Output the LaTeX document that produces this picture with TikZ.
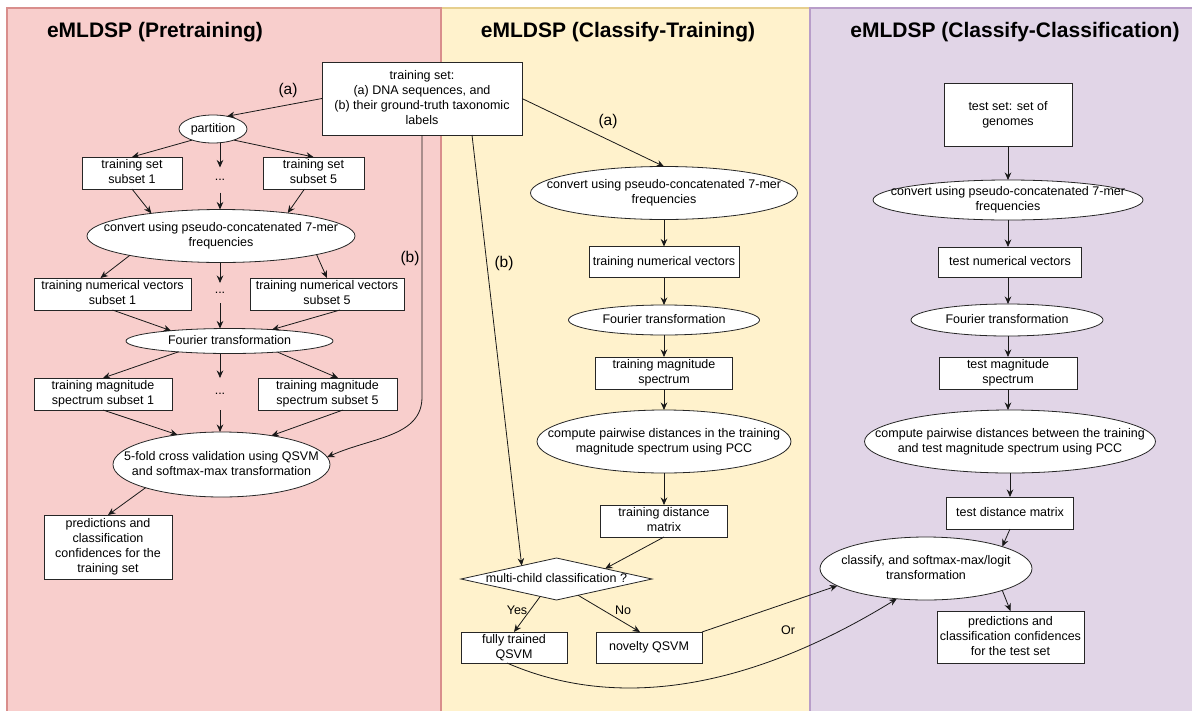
\documentclass[tikz,border=0pt]{standalone}
\usepackage{fontspec}
\setmainfont{Liberation Sans}
\usetikzlibrary{shapes.geometric,arrows.meta,calc}
\newcommand\ctext[1]{\makebox[0pt]{\begin{tabular}{@{}c@{}}#1\end{tabular}}}
\definecolor{pinkfill}{HTML}{F8CECC}
\definecolor{pinkline}{HTML}{D98E8C}
\definecolor{ylwfill}{HTML}{FFF2CC}
\definecolor{ylwline}{HTML}{E6CF8E}
\definecolor{purfill}{HTML}{E1D5E7}
\definecolor{purline}{HTML}{B89DC9}
\begin{document}
\begin{tikzpicture}[x=1pt,y=-1pt,
  every node/.style={inner sep=0pt, outer sep=0pt, text=black, font=\fontsize{12.5}{15}\selectfont},
  box/.style={draw=black!85, fill=white, line width=0.8pt, rectangle},
  ell/.style={draw=black!85, fill=white, line width=0.8pt, ellipse},
  dia/.style={draw=black!85, fill=white, line width=0.8pt, diamond},
  arr/.style={draw=black!90, line width=0.8pt, -{Stealth[length=7.5pt,width=6.5pt]}},
  ttl/.style={font=\bfseries\fontsize{21}{25}\selectfont},
  lab/.style={font=\fontsize{15.5}{18}\selectfont},
  dotsn/.style={font=\fontsize{12.5}{15}\selectfont}
]
\useasboundingbox (0,0) rectangle (1192,710);
\clip (0,0) rectangle (1192,710);
% panels
\fill[ylwfill] (441,8) rectangle (810,730);
\draw[ylwline, line width=1.2pt] (441,730) -- (441,8) -- (810,8) -- (810,730);
\fill[pinkfill] (7,8) rectangle (441,730);
\draw[pinkline, line width=1.2pt] (7,730) -- (7,8) -- (441,8) -- (441,730);
\fill[purfill] (810,8) rectangle (1200,730);
\draw[purline, line width=1.2pt] (810,730) -- (810,8) -- (1200,8);

% titles
\node[ttl] (t1) at (155,32) {eMLDSP (Pretraining)};
\node[ttl] (t2) at (618,32) {eMLDSP (Classify-Training)};
\node[ttl] (t3) at (1015,32) {eMLDSP (Classify-Classification)};

% pink panel
\node[box, minimum width=200pt, minimum height=73pt] (tset) at (422,98.5) {\ctext{training set:\\(a) DNA sequences, and\\(b) their ground-truth taxonomic\\labels}};
\node[ell, minimum width=68pt, minimum height=28pt] (partition) at (213,129) {\ctext{partition}};
\node[box, minimum width=100pt, minimum height=32pt] (sub1) at (132,173) {\ctext{training set\\subset 1}};
\node[box, minimum width=101pt, minimum height=32pt] (sub5) at (313.5,173) {\ctext{training set\\subset 5}};
\node[dotsn, minimum height=25pt] (dotsA) at (220,180) {...};
\node[ell, minimum width=268pt, minimum height=53pt] (conv) at (221,236) {\ctext{convert using pseudo-concatenated 7-mer\\frequencies}};
\node[box, minimum width=157pt, minimum height=32pt] (tnv1) at (112.5,294) {\ctext{training numerical vectors\\subset 1}};
\node[box, minimum width=154pt, minimum height=32pt] (tnv5) at (327,294) {\ctext{training numerical vectors\\subset 5}};
\node[dotsn, minimum height=20pt] (dotsB) at (220,293) {...};
\node[ell, minimum width=207pt, minimum height=25pt] (four) at (229.5,341) {\ctext{Fourier transformation}};
\node[box, minimum width=138pt, minimum height=32pt] (tms1) at (103,394) {\ctext{training magnitude\\spectrum subset 1}};
\node[box, minimum width=139pt, minimum height=32pt] (tms5) at (327.5,394) {\ctext{training magnitude\\spectrum subset 5}};
\node[dotsn, minimum height=32pt] (dotsC) at (220,394) {...};
\node[ell, minimum width=217pt, minimum height=65pt] (five) at (221.5,464.5) {\ctext{5-fold cross validation using QSVM\\and softmax-max transformation}};
\node[box, minimum width=128pt, minimum height=64pt] (pred) at (108,547) {\ctext{predictions and\\classification\\confidences for the\\training set}};

\node[lab] (la1) at (288,90) {(a)};
\node[lab] (lb1) at (410,258) {(b)};

\draw[arr] (tset.west) -- (partition.42);
\draw[arr] (partition.208) -- (sub1.north);
\draw[arr] (partition.332) -- (sub5.north);
\draw[arr] (partition.south -| dotsA) -- (dotsA.north);
\draw[arr] (dotsA.south) -- (dotsA.south |- conv.north);
\draw[arr] (sub1.south) -- (conv.162);
\draw[arr] ([xshift=-9pt]sub5.south) -- (conv.19);
\draw[arr] (conv.192) -- ([xshift=-12pt]tnv1.north);
\draw[arr] (conv.349) -- (tnv5.north);
\draw[arr] (conv.south -| dotsB) -- (dotsB.north);
\draw[arr] (dotsB.south) -- (dotsB.south |- four.north);
\draw[arr] (tnv1.south) -- (four.170);
\draw[arr] ([xshift=13pt]tnv5.south) -- (four.15);
\draw[arr] (four.192) -- (tms1.north);
\draw[arr] (four.347) -- ([xshift=10.5pt]tms5.north);
\draw[arr] (four.south -| dotsC) -- (dotsC.north);
\draw[arr] (dotsC.south) -- (dotsC.south |- five.north);
\draw[arr] (tms1.south) -- (five.146);
\draw[arr] ([xshift=15.5pt]tms5.south) -- (five.30);
\draw[arr] (five.197) -- (pred.north);
\draw[arr] (tset.south) -- ++(0,262) .. controls +(0,40) and +(45,-20) .. (five.4);

% yellow panel
\node[ell, minimum width=267pt, minimum height=53pt] (yconv) at (664,193) {\ctext{convert using pseudo-concatenated 7-mer\\frequencies}};
\node[box, minimum width=150pt, minimum height=31pt] (ytnv) at (664,262) {\ctext{training numerical vectors}};
\node[ell, minimum width=191pt, minimum height=30pt] (yfour) at (664,320) {\ctext{Fourier transformation}};
\node[box, minimum width=137pt, minimum height=32pt] (ytms) at (664,373) {\ctext{training magnitude\\spectrum}};
\node[ell, minimum width=254pt, minimum height=63pt] (ycomp) at (664,441.5) {\ctext{compute pairwise distances in the training\\magnitude spectrum using PCC}};
\node[box, minimum width=127pt, minimum height=32pt] (ytdm) at (664,521) {\ctext{training distance\\matrix}};
\node[dia, minimum width=191pt, minimum height=42pt] (dia) at (556.5,579) {\ctext{multi-child classification ?}};
\node[box, minimum width=106pt, minimum height=31pt] (full) at (514,647.5) {\ctext{fully trained\\QSVM}};
\node[box, minimum width=106pt, minimum height=31pt] (novelty) at (649,647.5) {\ctext{novelty QSVM}};

\node[lab] (la2) at (608,121) {(a)};
\node[lab] (lb2) at (504,263) {(b)};
\node (lyes) at (517,610) {Yes};
\node (lno) at (623,610) {No};
\node (lor) at (788,630) {Or};

\draw[arr] (tset.east) -- (yconv.north);
\draw[arr] ([xshift=50pt]tset.south) -- (dia.159);
\draw[arr] (yconv.south) -- (ytnv.north);
\draw[arr] (ytnv.south) -- (yfour.north);
\draw[arr] (yfour.south) -- (ytms.north);
\draw[arr] (ytms.south) -- (ycomp.north);
\draw[arr] (ycomp.south) -- (ytdm.north);
\draw[arr] (ytdm.south) -- (dia.12);
\draw[arr] (dia.227) -- (full.north);
\draw[arr] (dia.323) -- ([xshift=-9pt]novelty.north);

% purple panel
\node[box, minimum width=128pt, minimum height=63pt] (ptest) at (1008,114.5) {\ctext{test set: set of\\genomes}};
\node[ell, minimum width=270pt, minimum height=40pt, inner ysep=-1.5pt] (pconv) at (1008,200) {\ctext{convert using pseudo-concatenated 7-mer\\frequencies}};
\node[box, minimum width=143pt, minimum height=30pt] (ptnv) at (1010,262) {\ctext{test numerical vectors}};
\node[ell, minimum width=192pt, minimum height=32pt] (pfour) at (1007,320) {\ctext{Fourier transformation}};
\node[box, minimum width=138pt, minimum height=32pt] (ptms) at (1008,373) {\ctext{test magnitude\\spectrum}};
\node[ell, minimum width=291pt, minimum height=63pt] (pcomp) at (1010,441.5) {\ctext{compute pairwise distances between the training\\and test magnitude spectrum using PCC}};
\node[box, minimum width=127pt, minimum height=32pt] (ptdm) at (1010,513) {\ctext{test distance matrix}};
\node[ell, minimum width=212pt, minimum height=63pt] (pclass) at (926,568.5) {\ctext{classify, and softmax-max/logit\\transformation}};
\node[box, minimum width=147pt, minimum height=52pt] (ppred) at (1010.5,637) {\ctext{predictions and\\classification confidences\\for the test set}};

\draw[arr] (ptest.south -| pconv.north) -- (pconv.north);
\draw[arr] (pconv.south) -- (pconv.south |- ptnv.north);
\draw[arr] (pconv.south |- ptnv.south) -- (pconv.south |- pfour.north);
\draw[arr] (ptms.north |- pfour.south) -- (ptms.north);
\draw[arr] (ptms.south) -- (ptms.south |- pcomp.north);
\draw[arr] (pcomp.south) -- (ptdm.north);
\draw[arr] (ptdm.south) -- (pclass.16);
\draw[arr] (pclass.344) -- (ppred.north);

% cross-panel connectors
\draw[arr] (novelty.north east) -- (pclass.191);
\draw[arr] ([xshift=-7pt]full.south) .. controls (610,708) and (740,695) .. (pclass.226);
\end{tikzpicture}
\end{document}
